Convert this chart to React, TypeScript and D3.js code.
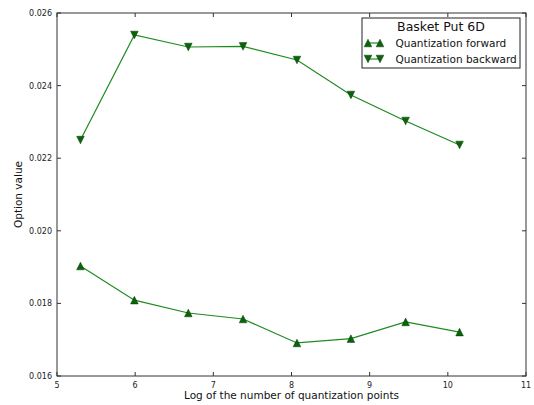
import React from "react";
import * as d3 from "d3";

const logPoints = [5.3, 5.99, 6.68, 7.38, 8.07, 8.76, 9.46, 10.15];
const forwardValues = [0.01903, 0.01809, 0.017736, 0.01757, 0.01691, 0.01703, 0.01749, 0.01721];
const backwardValues = [0.0225, 0.025394, 0.025063, 0.02508, 0.024705, 0.023741, 0.023025, 0.022364];
const xTicks = [5, 6, 7, 8, 9, 10, 11];
const yTicks = [0.016, 0.018, 0.02, 0.022, 0.024, 0.026];
const legendTitle = "Basket Put 6D";
const seriesNames = ["Quantization forward", "Quantization backward"];
const xLabel = "Log of the number of quantization points";
const yLabel = "Option value";

const W = 534, H = 405;
const left = 57, right = 526, top = 13, bottom = 376;
const FONT = "DejaVu Sans, sans-serif";
const LINE = "#1f8a1f";
const MFILL = "#0a640a";
const MSTROKE = "#063806";

function tri(x: number, y: number, up: boolean, r = 3.8) {
  const s = up ? 1 : -1;
  return `M${x},${y - s * r}L${x - r},${y + s * r}L${x + r},${y + s * r}Z`;
}

export default function App() {
  const x = d3.scaleLinear().domain([5, 11]).range([left, right]);
  const y = d3.scaleLinear().domain([0.016, 0.026]).range([bottom, top]);
  const line = d3.line<number>().x((_, i) => x(logPoints[i])).y((d) => y(d));
  const tl = 4;
  return (
    <svg width={W} height={H} style={{ position: "absolute", left: 0, top: 0, background: "#fff" }} fontFamily={FONT}>
      <rect x={0} y={0} width={W} height={H} fill="#fff" />
      {/* lines */}
      <path d={line(forwardValues) || ""} fill="none" stroke={LINE} strokeWidth={1.2} />
      <path d={line(backwardValues) || ""} fill="none" stroke={LINE} strokeWidth={1.2} />
      {forwardValues.map((v, i) => (
        <path key={"f" + i} d={tri(x(logPoints[i]), y(v), true)} fill={MFILL} stroke={MSTROKE} strokeWidth={0.5} />
      ))}
      {backwardValues.map((v, i) => (
        <path key={"b" + i} d={tri(x(logPoints[i]), y(v), false)} fill={MFILL} stroke={MSTROKE} strokeWidth={0.5} />
      ))}
      {/* frame */}
      <rect x={left} y={top} width={right - left} height={bottom - top} fill="none" stroke="#333" strokeWidth={1} />
      {/* ticks */}
      {xTicks.map((t) => (
        <g key={"x" + t}>
          <line x1={x(t)} x2={x(t)} y1={bottom} y2={bottom - tl} stroke="#333" />
          <line x1={x(t)} x2={x(t)} y1={top} y2={top + tl} stroke="#333" />
          <text x={x(t)} y={388} fontSize={8} textAnchor="middle" fill="#222">{t}</text>
        </g>
      ))}
      {yTicks.map((t) => (
        <g key={"y" + t}>
          <line x1={left} x2={left + tl} y1={y(t)} y2={y(t)} stroke="#333" />
          <line x1={right} x2={right - tl} y1={y(t)} y2={y(t)} stroke="#333" />
          <text x={52} y={y(t) + 3} fontSize={8} textAnchor="end" fill="#222">{t.toFixed(3)}</text>
        </g>
      ))}
      {/* axis labels */}
      <text x={(left + right) / 2} y={399} fontSize={10.5} textAnchor="middle" fill="#111">{xLabel}</text>
      <text transform={`translate(21.5,${(top + bottom) / 2}) rotate(-90)`} fontSize={10.5} textAnchor="middle" fill="#111">{yLabel}</text>
      {/* legend */}
      <rect x={362} y={18} width={158} height={50} fill="#fff" stroke="#222" strokeWidth={1} />
      <text x={441} y={31} fontSize={12.5} textAnchor="middle" fill="#111">{legendTitle}</text>
      {seriesNames.map((n, i) => {
        const ly = 43 + i * 16;
        return (
          <g key={n}>
            <line x1={368} x2={380} y1={ly} y2={ly} stroke={LINE} strokeWidth={1.2} />
            <path d={tri(368, ly, i === 0)} fill={MFILL} stroke={MSTROKE} strokeWidth={0.5} />
            <path d={tri(380, ly, i === 0)} fill={MFILL} stroke={MSTROKE} strokeWidth={0.5} />
            <text x={395.5} y={ly + 3.8} fontSize={10.5} fill="#111">{n}</text>
          </g>
        );
      })}
    </svg>
  );
}
